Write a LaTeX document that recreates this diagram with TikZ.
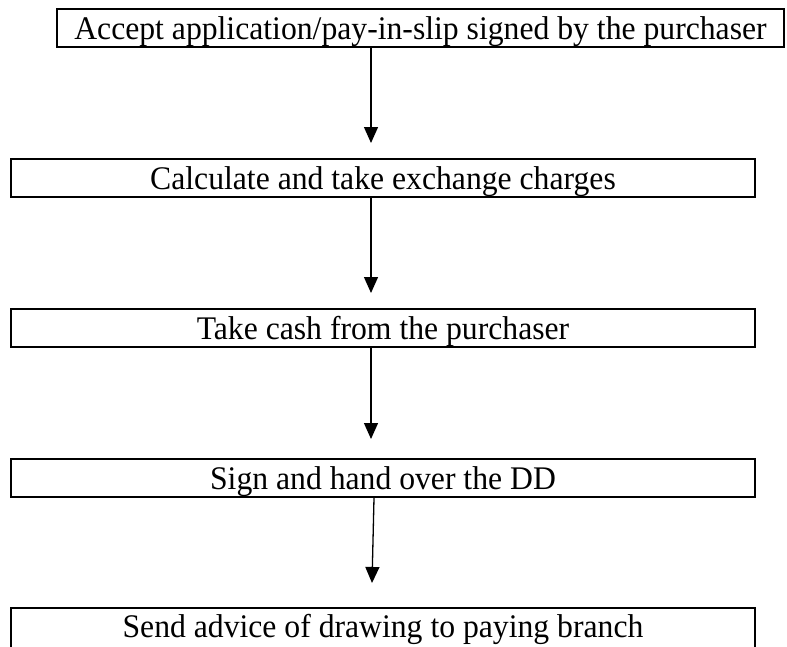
\documentclass[tikz,border=0pt]{standalone}
\usepackage{fontspec}
\setmainfont{Liberation Serif}[FakeStretch=0.96]
\usetikzlibrary{arrows.meta}
\tikzset{
  stepbox/.style={draw, line width=2pt, inner xsep=0pt, inner ysep=0pt,
    text height=22pt, text depth=0pt, minimum height=38pt,
    font=\fontsize{33pt}{36pt}\selectfont},
  flow/.style={line width=1.3pt, -{Triangle[length=16pt,width=14pt]}}
}
\begin{document}
\begin{tikzpicture}[x=1pt,y=-1pt]
\useasboundingbox (0,0) rectangle (787,646);
\node[stepbox, minimum width=727pt] (b1) at (420.5,28) {Accept application/pay-in-slip signed by the purchaser};
\node[stepbox, minimum width=744pt] (b2) at (383,178) {Calculate and take exchange charges};
\node[stepbox, minimum width=744pt] (b3) at (383,328) {Take cash from the purchaser};
\node[stepbox, minimum width=744pt] (b4) at (383,478) {Sign and hand over the DD};
\node[stepbox, minimum width=744pt, minimum height=44pt, text depth=8pt] (b5) at (383,630) {Send advice of drawing to paying branch};
\coordinate (t1) at (371,143);
\coordinate (t2) at (371,293);
\coordinate (t3) at (371,439);
\coordinate (t4) at (372,583);
\draw[flow] (b1.south -| t1) -- (t1);
\draw[flow] (b2.south -| t2) -- (t2);
\draw[flow] (b3.south -| t3) -- (t3);
\draw[flow] ([xshift=-9pt]b4.south) -- (t4);
\end{tikzpicture}
\end{document}
